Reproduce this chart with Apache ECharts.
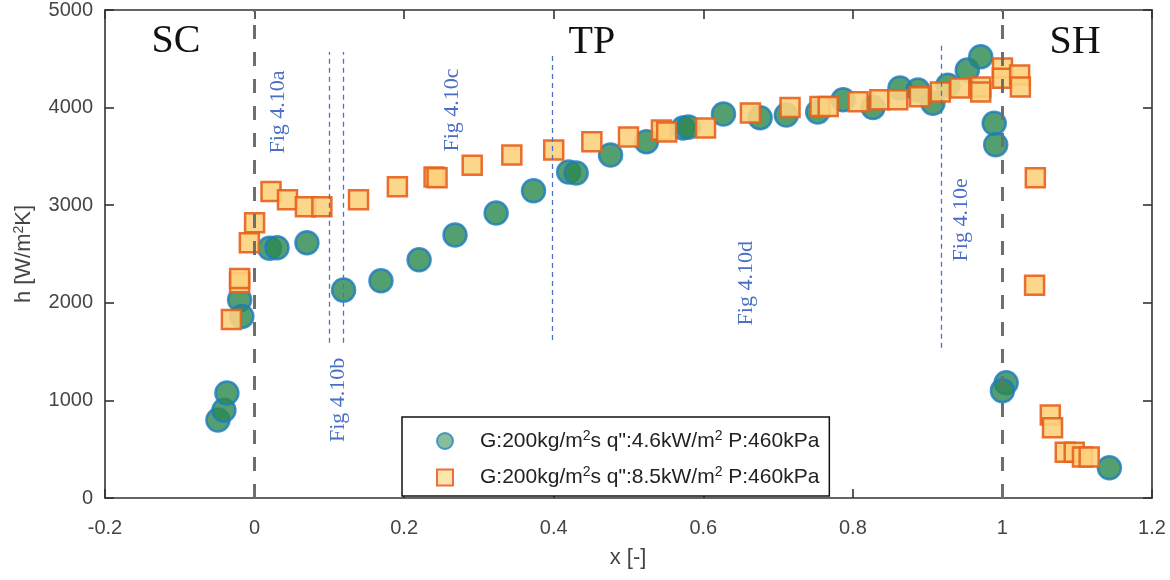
<!DOCTYPE html>
<html>
<head>
<meta charset="utf-8">
<script src="https://cdn.jsdelivr.net/npm/echarts@6/dist/echarts.min.js"></script>
<style>html,body{margin:0;padding:0;background:#fff;}#c{width:1170px;height:580px;}</style>
</head>
<body>
<div id="c"></div>
<script>
// Series 1: G:200 q":4.6 (circles)  [x, h]
const circleData = [[-0.049,800],[-0.041,900],[-0.037,1075],[-0.02,2030],[-0.017,1860],[0.02,2560],[0.03,2565],[0.07,2615],[0.119,2130],[0.169,2225],[0.22,2440],[0.268,2695],[0.323,2920],[0.373,3147],[0.42,3340],[0.43,3330],[0.476,3515],[0.524,3650],[0.573,3790],[0.58,3800],[0.627,3935],[0.676,3895],[0.711,3925],[0.753,3955],[0.787,4080],[0.827,4000],[0.863,4200],[0.887,4180],[0.907,4045],[0.927,4230],[0.953,4385],[0.971,4520],[0.989,3840],[0.991,3620],[1.005,1180],[1.0,1100],[1.143,310]];
// Series 2: G:200 q":8.5 (squares)
const squareData = [[-0.031,1830],[-0.02,2205],[-0.02,2250],[-0.007,2615],[0.0,2820],[0.022,3140],[0.044,3055],[0.068,2985],[0.09,2985],[0.139,3055],[0.191,3190],[0.24,3290],[0.244,3280],[0.291,3410],[0.344,3515],[0.4,3565],[0.451,3650],[0.5,3700],[0.544,3770],[0.551,3750],[0.603,3790],[0.663,3945],[0.716,4000],[0.756,4010],[0.767,4010],[0.807,4060],[0.836,4080],[0.86,4080],[0.889,4110],[0.917,4160],[0.943,4200],[0.971,4210],[0.971,4160],[1.0,4405],[1.0,4300],[1.023,4335],[1.024,4210],[1.044,3280],[1.043,2180],[1.064,850],[1.067,720],[1.084,470],[1.096,470],[1.107,420],[1.116,420]];
const seriesNames = ['G:200kg/m{sup|2}s q":4.6kW/m{sup|2} P:460kPa', 'G:200kg/m{sup|2}s q":8.5kW/m{sup|2} P:460kPa'];
const xAxisTitle = 'x [-]';
const yAxisTitle = 'h [W/m{sup|2}K]';
// Region labels [x, h, text]
const regionLabels = [[-0.105,4680,'SC'],[0.451,4670,'TP'],[1.097,4670,'SH']];
// Figure annotation labels [x, h, text]
const figLabels = [[0.031,3955,'Fig 4.10a'],[0.112,1005,'Fig 4.10b'],[0.264,3975,'Fig 4.10c'],[0.657,2200,'Fig 4.10d'],[0.945,2850,'Fig 4.10e']];
// Blue dashed separators [x, hStart, hEnd]
const figLines = [[0.1,1590,4570],[0.119,1590,4570],[0.398,1620,4570],[0.918,1540,4640]];
// Region boundaries (x)
const regionBounds = [0, 1];
const xTicks = {min:-0.2, max:1.2, interval:0.2};
const yTicks = {min:0, max:5000, interval:1000};

const chart = echarts.init(document.getElementById('c'));
const fmtX = v => String(Math.round(v*10)/10);
const fmtY = v => String(Math.round(v));
const AX = '#333';
const sans = 'Liberation Sans, Arial, sans-serif';
const serif = 'Liberation Serif, Times New Roman, serif';

chart.setOption({
  animation:false,
  grid:{left:105, right:18, top:10, bottom:82},
  xAxis:[
    {type:'value', min:xTicks.min, max:xTicks.max, interval:xTicks.interval, position:'bottom', splitLine:{show:false},
      axisLine:{show:true, onZero:false, lineStyle:{color:AX, width:1.6}},
      axisTick:{show:true, inside:true, length:9, lineStyle:{color:AX, width:1.6}},
      axisLabel:{show:true, margin:20, formatter:fmtX, fontFamily:sans, fontSize:20, color:'#454545'}},
    {type:'value', min:xTicks.min, max:xTicks.max, interval:xTicks.interval, position:'top', splitLine:{show:false},
      axisLine:{show:true, onZero:false, lineStyle:{color:AX, width:1.6}},
      axisTick:{show:true, inside:true, length:9, lineStyle:{color:AX, width:1.6}},
      axisLabel:{show:false}}
  ],
  yAxis:[
    {type:'value', min:yTicks.min, max:yTicks.max, interval:yTicks.interval, position:'left', splitLine:{show:false},
      axisLine:{show:true, onZero:false, lineStyle:{color:AX, width:1.6}},
      axisTick:{show:true, inside:true, length:9, lineStyle:{color:AX, width:1.6}},
      axisLabel:{show:true, margin:12, formatter:fmtY, fontFamily:sans, fontSize:20, color:'#454545'}},
    {type:'value', min:yTicks.min, max:yTicks.max, interval:yTicks.interval, position:'right', splitLine:{show:false},
      axisLine:{show:true, onZero:false, lineStyle:{color:AX, width:1.6}},
      axisTick:{show:true, inside:true, length:9, lineStyle:{color:AX, width:1.6}},
      axisLabel:{show:false}}
  ],
  legend:{
    orient:'vertical', left:402, top:417, width:423, height:80,
    padding:[12,10,8,34], itemGap:14, itemWidth:16, itemHeight:16,
    borderColor:'#111', borderWidth:1.5, backgroundColor:'#fff',
    data:[
      {name:seriesNames[0], icon:'circle', itemStyle:{color:'#6fae86', borderColor:'#2b86c8', borderWidth:2}},
      {name:seriesNames[1], icon:'rect', itemStyle:{color:'#fde3a4', borderColor:'#e8622a', borderWidth:2}}
    ],
    textStyle:{fontFamily:sans, fontSize:21, color:'#222', padding:[0,0,0,22],
      rich:{sup:{fontSize:14, verticalAlign:'bottom', padding:[0,0,10,0], color:'#222', fontFamily:sans}}},
    selectedMode:false
  },
  series:[
    {
      name:seriesNames[0], type:'scatter', data:circleData, symbol:'circle', symbolSize:23, z:3,
      itemStyle:{color:'#2e8a50', borderColor:'#1f7cc0', borderWidth:2.5, opacity:0.82},
      markLine:{silent:true, symbol:['none','none'], label:{show:false}, animation:false,
        lineStyle:{color:'#6e6e6e', type:[14,13], width:3},
        data: regionBounds.map(v => ({xAxis:v}))}
    },
    {
      name:seriesNames[1], type:'scatter', data:squareData, symbol:'rect', symbolSize:19, z:4,
      itemStyle:{color:'#fcd27e', borderColor:'#e8601c', borderWidth:2.5, opacity:0.9},
      markLine:{silent:true, symbol:['none','none'], label:{show:false}, animation:false,
        lineStyle:{color:'#4a72c4', type:[5,4], width:1.3},
        data: figLines.map(l => [{coord:[l[0], l[1]]}, {coord:[l[0], l[2]]}])}
    },
    {
      // keeps the secondary (top/right) axes bound to a series
      type:'scatter', silent:true, xAxisIndex:1, yAxisIndex:1, symbolSize:0,
      itemStyle:{color:'rgba(0,0,0,0)'}, data:[[xTicks.min, yTicks.min]]
    }
  ]
});

// Annotation texts placed through the chart's own coordinate conversion
const toPx = (x, h) => chart.convertToPixel({gridIndex:0}, [x, h]);
const g = [];
g.push({type:'text', x:628, y:558, z:10, style:{text:xAxisTitle, font:'22px ' + sans, fill:'#454545', align:'center', verticalAlign:'middle'}});
g.push({type:'text', x:24, y:254, rotation:Math.PI/2, z:10, style:{text:yAxisTitle, font:'22px ' + sans, fill:'#454545', align:'center', verticalAlign:'middle',
  rich:{sup:{fontSize:14, fontFamily:sans, fill:'#454545', verticalAlign:'bottom', padding:[0,0,10,0]}}}});
regionLabels.forEach(r => {
  const p = toPx(r[0], r[1]);
  g.push({type:'text', x:p[0], y:p[1], z:10, silent:true, style:{text:r[2], font:'40px ' + serif, fill:'#111', align:'center', verticalAlign:'middle'}});
});
figLabels.forEach(r => {
  const p = toPx(r[0], r[1]);
  g.push({type:'text', x:p[0], y:p[1], rotation:Math.PI/2, z:10, silent:true, style:{text:r[2], font:'22px ' + serif, fill:'#4a6fc4', align:'center', verticalAlign:'middle'}});
});
chart.setOption({graphic:g});
</script>
</body>
</html>
